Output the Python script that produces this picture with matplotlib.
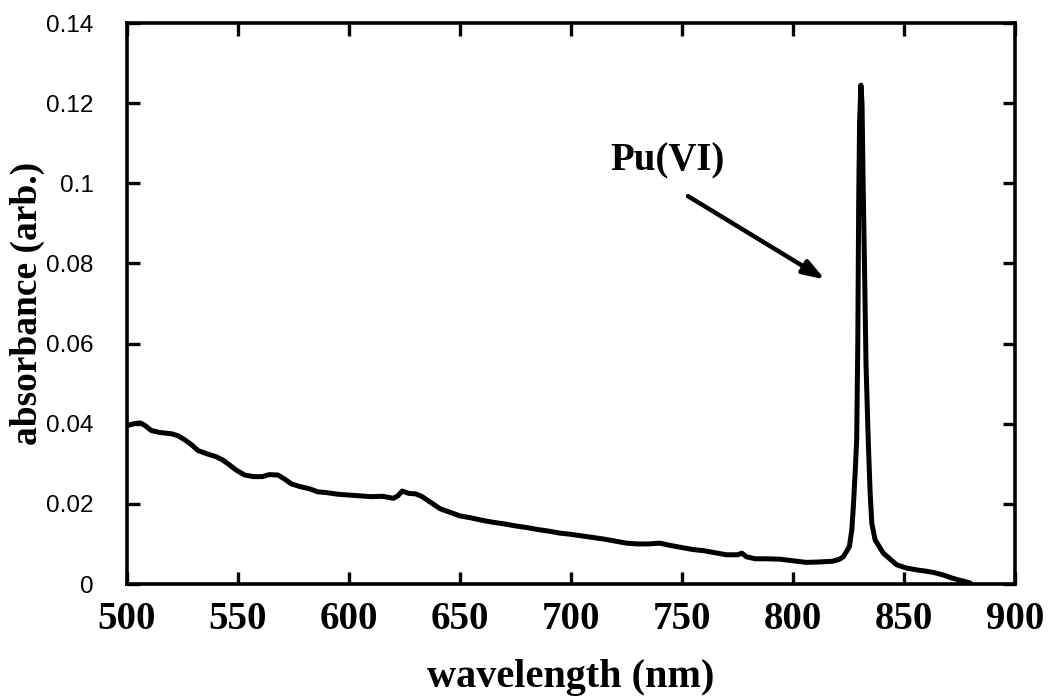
import matplotlib.pyplot as plt

# spectrum
wavelength = [500, 503, 506, 508, 511, 515, 520, 523, 526, 529, 532, 536, 540, 543,
              546, 549, 553, 557, 561, 564, 568, 571, 574, 578, 582, 586, 590, 595,
              600, 605, 610, 615, 620, 622, 624, 627, 630, 633, 637, 641, 645, 650,
              655, 660, 665, 670, 675, 680, 685, 690, 695, 700, 705, 710, 715, 720,
              725, 730, 735, 740, 745, 750, 755, 760, 765, 770, 775, 777, 779, 783,
              788, 794, 800, 806, 812, 818, 821, 822.7, 825.4, 826.5, 827.2, 828.0,
              828.7, 829.2, 829.6, 830.0, 830.6, 831.1, 831.6, 832.2, 832.9, 833.9,
              834.7, 835.5, 837, 840.7, 846.7, 851, 856, 860, 864, 868, 871, 874,
              877, 880]
absorbance = [0.0395, 0.0400, 0.0402, 0.0396, 0.0383, 0.0378, 0.0375, 0.0370, 0.0360,
              0.0348, 0.0333, 0.0325, 0.0318, 0.0310, 0.0298, 0.0285, 0.0272, 0.0268,
              0.0268, 0.0273, 0.0272, 0.0262, 0.0250, 0.0243, 0.0238, 0.0230, 0.0228,
              0.0224, 0.0222, 0.0220, 0.0218, 0.0219, 0.0214, 0.0220, 0.0232, 0.0226,
              0.0225, 0.0218, 0.0203, 0.0188, 0.0180, 0.0170, 0.0165, 0.0159, 0.0154,
              0.0150, 0.0145, 0.0141, 0.0136, 0.0132, 0.0127, 0.0124, 0.0120, 0.0116,
              0.0112, 0.0107, 0.0102, 0.0100, 0.0100, 0.0102, 0.0096, 0.0091, 0.0086,
              0.0083, 0.0078, 0.0073, 0.0073, 0.0077, 0.0068, 0.0063, 0.0063, 0.0062,
              0.0058, 0.0054, 0.0055, 0.0057, 0.0062, 0.0068, 0.0093, 0.0135, 0.0193,
              0.0277, 0.0360, 0.0600, 0.0950, 0.1150, 0.1245, 0.1200, 0.1000, 0.0800,
              0.0550, 0.0360, 0.0235, 0.0152, 0.0110, 0.0077, 0.0048, 0.0040, 0.0035,
              0.0032, 0.0028, 0.0022, 0.0016, 0.0011, 0.0007, 0.0002]

xticks = [500, 550, 600, 650, 700, 750, 800, 850, 900]
yticks = [0, 0.02, 0.04, 0.06, 0.08, 0.1, 0.12, 0.14]
ytick_labels = ['0', '0.02', '0.04', '0.06', '0.08', '0.1', '0.12', '0.14']

serif = 'Liberation Serif'

fig = plt.figure(figsize=(10.52, 6.98), dpi=100)
ax = fig.add_axes([0.1207, 0.1633, 0.8441, 0.8037])

ax.plot(wavelength, absorbance, color='black', lw=3.6,
        solid_joinstyle='round', solid_capstyle='round')

ax.set_xlim(500, 900)
ax.set_ylim(0, 0.14)
ax.set_xticks(xticks)
ax.set_xticklabels([str(v) for v in xticks], family=serif, weight='bold', fontsize=28)
ax.set_yticks(yticks)
ax.set_yticklabels(ytick_labels, family='Liberation Sans', fontsize=17.5)

ax.tick_params(direction='in', top=True, right=True, length=9, width=2.4)
ax.tick_params(axis='x', pad=12)
ax.tick_params(axis='y', pad=24)
for s in ax.spines.values():
    s.set_linewidth(2.6)

ax.set_xlabel('wavelength (nm)', family=serif, weight='bold', fontsize=29)
ax.set_ylabel('absorbance (arb.)', family=serif, weight='bold', fontsize=27)
ax.xaxis.set_label_coords(0.5, -0.133)
ax.yaxis.set_label_coords(-0.092, 0.5)

ax.annotate('', xy=(814.4, 0.076), xytext=(752.7, 0.0968),
            arrowprops=dict(arrowstyle='-|>,head_length=1.3,head_width=0.45',
                            color='black', lw=3.2, shrinkA=0, shrinkB=0))
ax.text(743.7, 0.1055, 'Pu(VI)', family=serif, weight='bold', fontsize=28,
        ha='center', va='center')

fig.savefig('out.png', dpi=100)
